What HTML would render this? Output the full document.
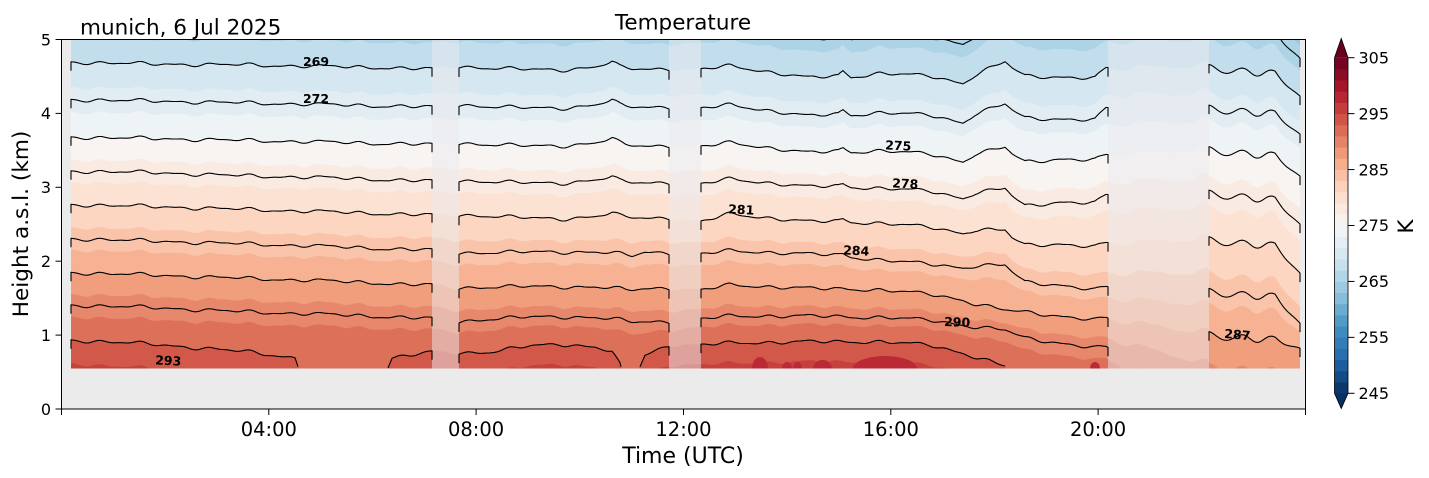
<!DOCTYPE html>
<html><head><meta charset="utf-8">
<style>
html,body{margin:0;padding:0;background:#fff;}
svg{display:block;}
text{font-family:"DejaVu Sans","Liberation Sans",sans-serif;fill:#000;}
</style></head>
<body>
<svg id="s" width="1429" height="478" viewBox="0 0 1429 478" xmlns="http://www.w3.org/2000/svg">
<defs><clipPath id="ax"><rect x="61.5" y="39.5" width="1244" height="369.5"/></clipPath>
<clipPath id="dat"><rect x="61.5" y="39.5" width="1244" height="329"/></clipPath></defs>
<rect x="61.5" y="39.5" width="1244" height="369.5" fill="#ebebeb"/>
<g id="field" clip-path="url(#ax)"></g>
<g id="labels" font-weight="bold" font-size="12.5" text-anchor="middle">
<text transform="translate(316,66) rotate(0)">269</text>
<text transform="translate(316,103) rotate(0)">272</text>
<text transform="translate(898,150) rotate(3)">275</text>
<text transform="translate(905,188) rotate(3)">278</text>
<text transform="translate(741,214) rotate(3)">281</text>
<text transform="translate(856,255) rotate(3)">284</text>
<text transform="translate(957,326.5) rotate(2)">290</text>
<text transform="translate(168,365) rotate(3)">293</text>
<text transform="translate(1237,339) rotate(5)">287</text>
</g>
<rect x="61.5" y="39.5" width="1244" height="369.5" fill="none" stroke="#000" stroke-width="1"/>
<g stroke="#000" stroke-width="1">
<line x1="55.5" y1="409" x2="61.5" y2="409"/>
<line x1="55.5" y1="335.1" x2="61.5" y2="335.1"/>
<line x1="55.5" y1="261.2" x2="61.5" y2="261.2"/>
<line x1="55.5" y1="187.3" x2="61.5" y2="187.3"/>
<line x1="55.5" y1="113.4" x2="61.5" y2="113.4"/>
<line x1="55.5" y1="39.5" x2="61.5" y2="39.5"/>
<line x1="61.5" y1="409" x2="61.5" y2="415"/>
<line x1="268.8" y1="409" x2="268.8" y2="415"/>
<line x1="476.1" y1="409" x2="476.1" y2="415"/>
<line x1="683.5" y1="409" x2="683.5" y2="415"/>
<line x1="890.8" y1="409" x2="890.8" y2="415"/>
<line x1="1098.1" y1="409" x2="1098.1" y2="415"/>
<line x1="1305.5" y1="409" x2="1305.5" y2="415"/>
</g>
<g font-size="16" text-anchor="end">
<text x="51" y="414.8">0</text>
<text x="51" y="340.9">1</text>
<text x="51" y="267">2</text>
<text x="51" y="193.1">3</text>
<text x="51" y="119.2">4</text>
<text x="51" y="45.3">5</text>
</g>
<g font-size="19.5" text-anchor="middle">
<text x="268.8" y="436">04:00</text>
<text x="476.1" y="436">08:00</text>
<text x="683.5" y="436">12:00</text>
<text x="890.8" y="436">16:00</text>
<text x="1098.1" y="436">20:00</text>
</g>
<text x="683" y="463" font-size="22" text-anchor="middle">Time (UTC)</text>
<text transform="translate(28,224) rotate(-90)" font-size="21.6" text-anchor="middle">Height a.s.l. (km)</text>
<text x="683" y="29.5" font-size="21.5" text-anchor="middle">Temperature</text>
<text x="80" y="34.3" font-size="21.5">munich, 6 Jul 2025</text>
<g id="cbar"></g>
<g font-size="16">
<text x="1358.5" y="63.5">305</text>
<text x="1358.5" y="119.4">295</text>
<text x="1358.5" y="175.3">285</text>
<text x="1358.5" y="231.2">275</text>
<text x="1358.5" y="287.1">265</text>
<text x="1358.5" y="343">255</text>
<text x="1358.5" y="399">245</text>
</g>
<text transform="translate(1413,226.5) rotate(-90)" font-size="21.6" text-anchor="middle">K</text>
</svg>
<script>
(function(){
const NS='http://www.w3.org/2000/svg';
function add(p,t,a){const e=document.createElementNS(NS,t);for(const k in a)e.setAttribute(k,a[k]);p.appendChild(e);return e;}
const A=[[5,48,97],[33,102,172],[67,147,195],[146,197,222],[209,229,240],[247,247,247],[253,219,199],[244,165,130],[214,96,77],[178,24,43],[103,0,31]];
function cmap(t){t=Math.max(0,Math.min(1,t));const f=t*10;let i=Math.floor(f);if(i>=10)i=9;const r=f-i;const a=A[i],b=A[i+1];return 'rgb('+[0,1,2].map(k=>Math.round(a[k]+(b[k]-a[k])*r)).join(',')+')';}
function band(L){return cmap((L+0.6-245)/60);}
function bandc(L){return cmap((L+1-245)/60);}
const K=[
[71,62,99.5,137,171,204.5,238.5,272.5,305,340],
[150,64,101,138.5,172.5,206.5,241,275,307.5,344],
[250,65,103,140.5,176,209.5,244,278.5,312,352],
[295,66,104,141.5,177,211,245.5,280,313.5,358],
[305,66,104,141.5,177,211,245.5,280,313.5,385],
[380,67.5,106,143.5,179.5,213.5,248.5,283,316.5,385],
[392,68,106,143.5,180,214,249,284,317,358],
[432,69,107,144.5,181,215,250,285,318.5,352],
[459,66.7,105,143.3,180.7,215,253,288,321.7,353],
[490,68,106.5,144.5,181.5,216,252.5,287,319,352],
[530,69.5,108,146,183,218,252,286.5,317,346],
[560,70,108.3,146,183.3,219,252,286.7,316.7,344],
[595,67,105,143,180,216.5,252,287,317.5,347],
[612,62,100,138.3,176.7,213,253,288,319,352],
[620,67,105,143,181,216,254,289,320,365],
[625,68,106.5,145,182,217,255,290,321,385],
[632,69,107,145.5,182.5,217.5,256,290,322,385],
[645,69,107,146,182.7,218,252,288.5,321.7,355],
[669,69,107.3,146,182.7,218,253,288,321.7,345],
[701,69.3,108.3,146.7,184,221.7,254,290,319,345],
[730,66,105,142.7,179,214,250.7,285,316,343],
[808,77.7,116,152.7,186.7,221.7,254,288.3,316,341.7],
[838,76,114,151,186,221,255,289,316.5,341.7],
[843,71,110,148,184,219,254,288.5,316.5,341.7],
[851,77,115,152,187,222,257,289,317,341.7],
[880,73.3,112.7,150.7,188.3,223.3,260,290,317.3,341.7],
[930,76,115,154,191,227,264,294,320,345],
[963,83.3,122.7,161.7,198.3,233.3,267.7,300,325,353],
[975,75,114,154,193,230,266,304,327,357],
[1005,61.7,104,147.3,188.3,230,265,310,330,366],
[1012,68,110,154,196,238,272,311,333,385],
[1025,76,118,162,206,245,282,312,338,385],
[1060,77,119,159,202,244,285,316,343,388],
[1095,78.3,120,160,203,247,290,320,348,390],
[1106,68,108,155,195,243,287,318,347,390],
[1209,66,106.7,148.3,191.7,238.3,290,333.3,380,420],
[1275,70,110,152,196,242,293,336,382,420],
[1300,95,133,175,223,272,322,347,395,430]
];
function base(x){
  if(x<=K[0][0])return K[0].slice(1);
  for(let i=0;i<K.length-1;i++){
    if(x<=K[i+1][0]){const a=K[i],b=K[i+1];const f=(x-a[0])/(b[0]-a[0]);const r=[];for(let j=1;j<10;j++)r.push(a[j]+(b[j]-a[j])*f);return r;}
  }
  return K[K.length-1].slice(1);
}
function wig(x){
  let v=1.1*Math.sin(x*0.17)+0.6*Math.sin(x*0.29+1.3)+0.7*Math.sin(x*0.065+2.1);
  if(x>=1209)v+=3*(1-Math.cos(2*Math.PI*(x-1209)/31));
  else if(x>1108)v+=3*Math.sin((x-1108)/9);
  return v;
}
function lines(x){const b=base(x),w=wig(x);return b.map(v=>v+w);}
function yL(L,ys){
  const c8=Math.min(ys[8],ys[7]+36);
  if(L<=269)return ys[0]-(269-L)/3*(ys[1]-ys[0]);
  if(L>=293)return ys[8]+(L-293)/3*Math.max(c8-ys[7],30);
  const i=Math.floor((L-269)/3);const f=((L-269)-3*i)/3;const hi=(i+1===8)?c8:ys[i+1];
  return ys[i]+f*(hi-ys[i]);
}
const field=document.getElementById('field');
const DB=368.5,YT=39.5;
const XS=[];for(let x=71;x<=1300;x++)XS.push(x);
const LS=XS.map(lines);
add(field,'rect',{x:71,y:YT,width:1229,height:DB-YT,fill:band(263)});
for(let L=265;L<=297;L+=2){
  let d='M71,'+DB;
  XS.forEach((x,i)=>{let y=yL(L,LS[i]);y=Math.max(YT-1,Math.min(DB,y));d+=' L'+x+','+y.toFixed(1);});
  d+=' L1300,'+DB+' Z';
  add(field,'path',{d:d,fill:band(L)});
}
// warm blobs near ground
const bg=document.createElementNS(NS,'g');bg.setAttribute('clip-path','url(#dat)');field.appendChild(bg);
const bl=cmap(0.875);
[[752,768,357],[782,792,362],[793,802,362],[813,832,360],[853,917,356],[1090,1100,362]].forEach(b=>{
  const a=b[0],c=b[1],t=b[2];
  add(bg,'ellipse',{cx:(a+c)/2,cy:DB,rx:(c-a)/2,ry:(DB-t),fill:bl});
});
// gaps overlay
[[432,459],[669,701],[1108,1209]].forEach(g=>{
  add(field,'rect',{x:g[0],y:YT,width:g[1]-g[0],height:DB-YT,fill:'rgb(234,234,238)','fill-opacity':0.5});
});
// contour lines
const segs=[[71,432],[459,669],[701,1108],[1209,1300]];
for(let L=266;L<=293;L+=3){
  for(const sg of segs){
    const a=sg[0],b=sg[1];const runs=[];let cur=null;
    for(let x=a;x<=b;x++){
      const y=yL(L,LS[x-71]);
      if(y>YT-0.5&&y<DB-0.3){if(!cur){cur=[];runs.push(cur);}cur.push([x,y]);}else cur=null;
    }
    runs.forEach(r=>{
      const p=r.slice();
      if(p[0][0]===a&&p[0][1]+9<DB)p.unshift([a,p[0][1]+9]);
      const l=p[p.length-1];
      if(l[0]===b&&l[1]+9<DB)p.push([b,l[1]+9]);
      add(field,'polyline',{points:p.map(q=>q[0]+','+q[1].toFixed(1)).join(' '),fill:'none',stroke:'#000','stroke-width':1.1,'stroke-linejoin':'round'});
    });
  }
}
// colorbar
const cb=document.getElementById('cbar');
const y245=393.3,pk=(393.3-57.7)/60;
function yc(v){return y245-(v-245)*pk;}
for(let i=0;i<30;i++){
  const L=245+2*i;
  add(cb,'rect',{x:1334.5,y:yc(L+2).toFixed(2),width:13.5,height:(pk*2+0.4).toFixed(2),fill:bandc(L)});
}
add(cb,'path',{d:'M1334.5,57.7 L1341.25,38.5 L1348,57.7 Z',fill:'rgb(103,0,31)'});
add(cb,'path',{d:'M1334.5,393.3 L1341.25,408.5 L1348,393.3 Z',fill:'rgb(5,48,97)'});
add(cb,'path',{d:'M1334.5,57.7 L1341.25,38.5 L1348,57.7 L1348,393.3 L1341.25,408.5 L1334.5,393.3 Z',fill:'none',stroke:'#000','stroke-width':0.8});
for(let v=245;v<=305;v+=10){const y=yc(v);add(cb,'line',{x1:1348,y1:y,x2:1354.5,y2:y,stroke:'#000','stroke-width':1});}
})();
</script>
</body></html>
